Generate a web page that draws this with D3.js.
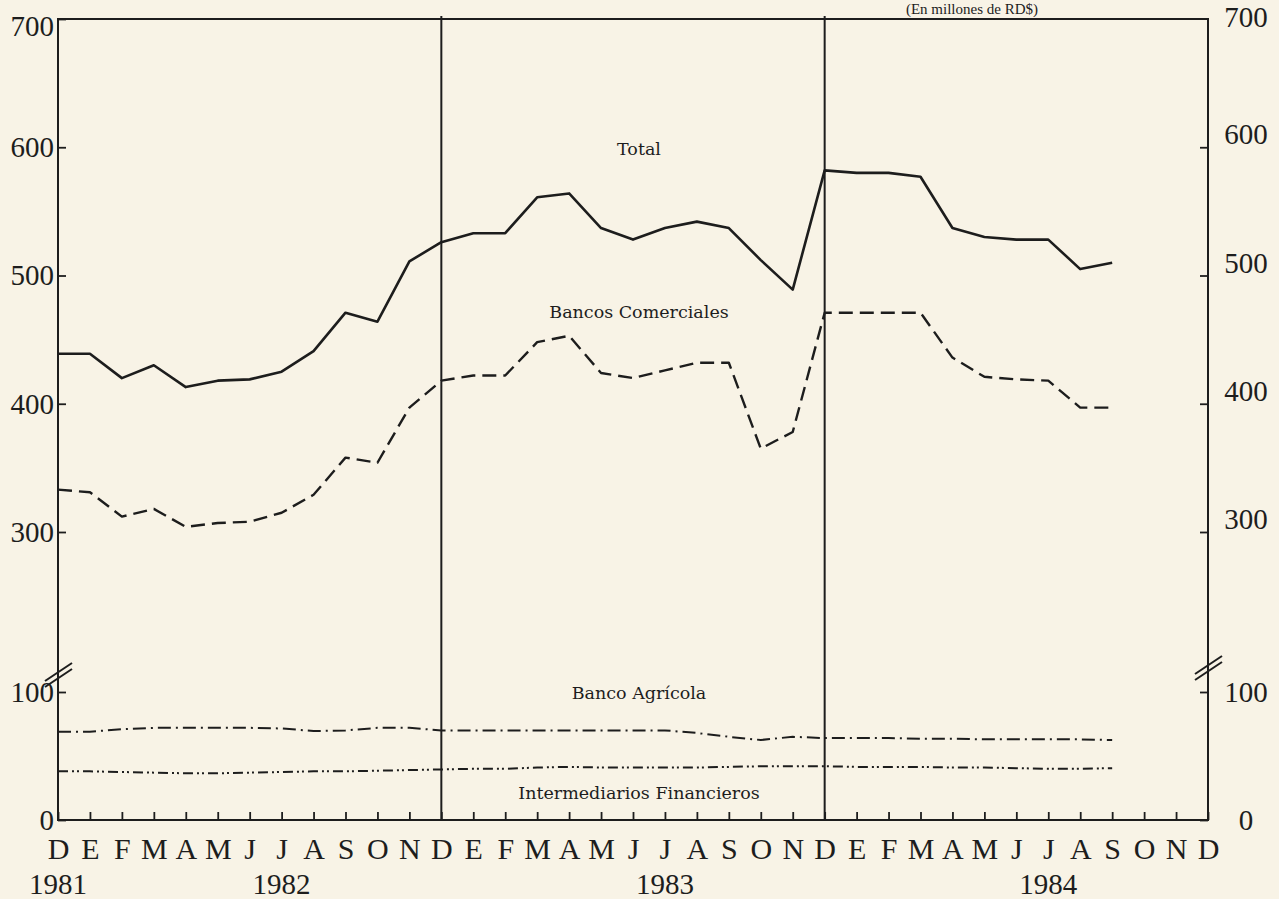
<!DOCTYPE html>
<html>
<head>
<meta charset="utf-8">
<script src="https://cdn.jsdelivr.net/npm/d3@7/dist/d3.min.js"></script>
<style>
  html, body { margin: 0; padding: 0; background: #f8f3e6; }
  svg { display: block; }
</style>
</head>
<body>
<div id="chart"></div>
<script>
// Month initials, December 1981 through December 1984
const months = [
  'D', 'E', 'F', 'M', 'A', 'M', 'J', 'J', 'A', 'S', 'O', 'N',
  'D', 'E', 'F', 'M', 'A', 'M', 'J', 'J', 'A', 'S', 'O', 'N',
  'D', 'E', 'F', 'M', 'A', 'M', 'J', 'J', 'A', 'S', 'O', 'N',
  'D'
];
const years = ['1981', '1982', '1983', '1984'];
const yearMonth = [0, 7, 19, 31];

// Millions of RD$, Dec 1981 .. Sep 1984
const total = [
  439, 439, 420, 430, 413, 418, 419, 425, 441, 471, 464, 511,
  526, 533, 533, 561, 564, 537, 528, 537, 542, 537, 512, 489,
  582, 580, 580, 577, 537, 530, 528, 528, 505, 510
];
const comerciales = [
  333, 331, 312, 318, 304, 307, 308, 315, 329, 358, 354, 397,
  418, 422, 422, 448, 453, 424, 420, 426, 432, 432, 365, 378,
  471, 471, 471, 471, 436, 421, 419, 418, 397, 397
];
const agricola = [
  69, 69, 71, 72, 72, 72, 72, 71.5, 69.5, 70, 72, 72,
  70, 70, 70, 70, 70, 70, 70, 70, 68, 65, 62.5, 65,
  64, 64, 64, 63.5, 63.5, 63, 63, 63, 63, 62.5
];
const intermediarios = [
  38, 38, 37.5, 37, 36.5, 36.5, 37, 37.5, 38, 38, 38.5, 39,
  39.5, 40, 40, 41, 41.5, 41, 41, 41, 41, 41.5, 42, 42,
  42, 41.5, 41.5, 41.5, 41, 41, 40.5, 40, 40, 40.5
];

const upperTicks = [300, 400, 500, 600, 700];
const lowerTicks = [0, 100];

const width = 1279;
const height = 899;
const ink = '#1d1d1d';
const axisFont = '"Liberation Serif", serif';

const svg = d3.select('#chart')
  .append('svg')
  .attr('width', width)
  .attr('height', height)
  .style('background', '#f8f3e6');

// x: one point per month
const x = d3.scalePoint()
  .domain(d3.range(months.length))
  .range([58, 1208]);

// broken y axis: 300-700 above the break, 0-100 below it
const yUpper = d3.scaleLinear().domain([300, 700]).range([532, 19]);
const yLower = d3.scaleLinear().domain([0, 100]).range([820, 692]);
const y = v => (v >= 200 ? yUpper(v) : yLower(v));

const series = [
  { values: total, dash: null, width: 2.6 },
  { values: comerciales, dash: '14,7', width: 2.4 },
  { values: agricola, dash: '13,5,2,5', width: 2 },
  { values: intermediarios, dash: '10,4,2,3,2,4', width: 2 }
];

const labels = [
  { text: 'Total', value: 594 },
  { text: 'Bancos Comerciales', value: 467 },
  { text: 'Banco Agrícola', value: 94.5 },
  { text: 'Intermediarios Financieros', value: 16.4 }
];

// frame and year dividers
svg.append('rect')
  .attr('x', x(0))
  .attr('y', yUpper(700))
  .attr('width', x(36) - x(0))
  .attr('height', yLower(0) - yUpper(700))
  .attr('fill', 'none')
  .attr('stroke', ink)
  .attr('stroke-width', 2);

svg.selectAll('.divider')
  .data([12, 24])
  .join('line')
  .attr('class', 'divider')
  .attr('x1', d => x(d))
  .attr('x2', d => x(d))
  .attr('y1', yUpper(700) - 3)
  .attr('y2', yLower(0))
  .attr('stroke', ink)
  .attr('stroke-width', 2);

// bottom axis: inward ticks, month initials underneath
const xAxis = svg.append('g')
  .attr('transform', `translate(0,${yLower(0)})`)
  .call(d3.axisBottom(x)
    .tickSizeInner(-8)
    .tickSizeOuter(0)
    .tickPadding(18)
    .tickFormat(i => months[i]));

xAxis.select('.domain').remove();
xAxis.selectAll('line').attr('stroke', ink).attr('stroke-width', 1.8);
xAxis.selectAll('text')
  .attr('fill', ink)
  .style('font', `30px ${axisFont}`);

svg.selectAll('.year')
  .data(years)
  .join('text')
  .attr('class', 'year')
  .attr('x', (d, i) => x(yearMonth[i]))
  .attr('y', 894)
  .attr('text-anchor', 'middle')
  .attr('fill', ink)
  .style('font', `29px ${axisFont}`)
  .text(d => d);

// y axes, left and right, both halves
function styleAxis(g) {
  g.select('.domain').remove();
  g.selectAll('line').attr('stroke', ink).attr('stroke-width', 1.8);
  g.selectAll('text')
    .attr('fill', ink)
    .style('font', `29px ${axisFont}`);
}

const leftUpper = svg.append('g')
  .attr('transform', `translate(${x(0)},0)`)
  .call(d3.axisLeft(yUpper).tickValues(upperTicks).tickSizeInner(-8).tickSizeOuter(0).tickPadding(4))
  .call(styleAxis);
leftUpper.selectAll('.tick').filter(d => d === 700).select('text').attr('dy', '0.58em');

svg.append('g')
  .attr('transform', `translate(${x(0)},0)`)
  .call(d3.axisLeft(yLower).tickValues(lowerTicks).tickSizeInner(-8).tickSizeOuter(0).tickPadding(4))
  .call(styleAxis);

const rightUpper = svg.append('g')
  .attr('transform', `translate(${x(36)},0)`)
  .call(d3.axisRight(yUpper).tickValues(upperTicks).tickSizeInner(-8).tickSizeOuter(0).tickPadding(38))
  .call(styleAxis);
rightUpper.selectAll('text').attr('text-anchor', 'middle').attr('dy', '-0.12em');
rightUpper.selectAll('.tick').filter(d => d === 700).select('text').attr('dy', '0.26em');
rightUpper.selectAll('.tick').filter(d => d === 700).select('line').remove();

const rightLower = svg.append('g')
  .attr('transform', `translate(${x(36)},0)`)
  .call(d3.axisRight(yLower).tickValues(lowerTicks).tickSizeInner(-8).tickSizeOuter(0).tickPadding(38))
  .call(styleAxis);
rightLower.selectAll('text').attr('text-anchor', 'middle');

// break marks on both vertical axes
function drawBreak(cx, cy) {
  [-3, 3].forEach(off => {
    svg.append('line')
      .attr('x1', cx - 13)
      .attr('y1', cy + off + 9)
      .attr('x2', cx + 14)
      .attr('y2', cy + off - 9)
      .attr('stroke', ink)
      .attr('stroke-width', 2);
  });
}
drawBreak(x(0), yLower(100) - 17);
drawBreak(x(36), yLower(100) - 24);

// series lines
const line = d3.line()
  .x((d, i) => x(i))
  .y(d => y(d));

svg.selectAll('.series')
  .data(series)
  .join('path')
  .attr('class', 'series')
  .attr('d', d => line(d.values))
  .attr('fill', 'none')
  .attr('stroke', ink)
  .attr('stroke-width', d => d.width)
  .attr('stroke-linejoin', 'round')
  .attr('stroke-dasharray', d => d.dash);

// series names in the middle panel
svg.selectAll('.series-label')
  .data(labels)
  .join('text')
  .attr('class', 'series-label')
  .attr('x', x(18) + 6)
  .attr('y', d => y(d.value))
  .attr('text-anchor', 'middle')
  .attr('fill', ink)
  .style('font', '17.5px "DejaVu Serif", serif')
  .text(d => d.text);

// units note above the plot
svg.append('text')
  .attr('x', 972)
  .attr('y', 14)
  .attr('text-anchor', 'middle')
  .attr('fill', ink)
  .style('font', `15px ${axisFont}`)
  .text('(En millones de RD$)');
</script>
</body>
</html>
